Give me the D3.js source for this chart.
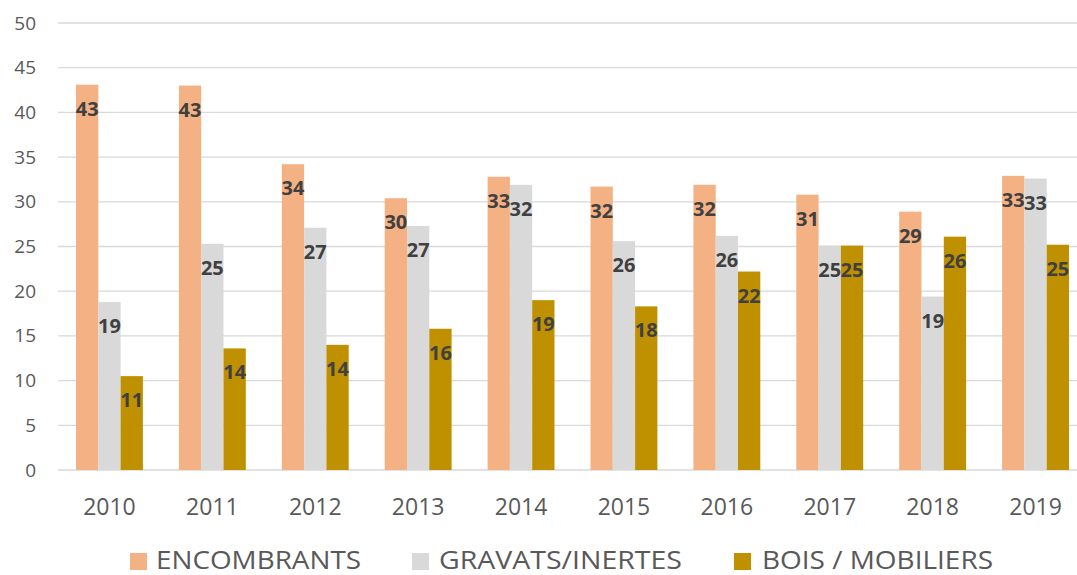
<!DOCTYPE html>
<html>
<head>
<meta charset="utf-8">
<script src="https://cdn.jsdelivr.net/npm/d3@7"></script>
<style>
    body { margin: 0; background: #fff; }
    text { font-family: "Open Sans", sans-serif; }
</style>
</head>
<body>
<div id="chart"></div>
<script>

// data
const years = ["2010", "2011", "2012", "2013", "2014", "2015", "2016", "2017", "2018", "2019"];
const seriesNames = ["ENCOMBRANTS", "GRAVATS/INERTES", "BOIS / MOBILIERS"];
const encombrants = [43.1, 43.0, 34.2, 30.4, 32.8, 31.7, 31.9, 30.8, 28.9, 32.9];
const gravats = [18.8, 25.3, 27.1, 27.3, 31.9, 25.6, 26.2, 25.1, 19.4, 32.6];
const bois = [10.5, 13.6, 14.0, 15.8, 19.0, 18.3, 22.2, 25.1, 26.1, 25.2];
const yTicks = [0, 5, 10, 15, 20, 25, 30, 35, 40, 45, 50];

const colors = ["#F4B183", "#D9D9D9", "#BF9000"];
const allSeries = [encombrants, gravats, bois];

let width = 1077, height = 575;
let margin = {top: 23, right: -10, bottom: 105, left: 58};
let innerW = width - margin.left - margin.right;
let innerH = height - margin.top - margin.bottom;

let svg = d3.select("#chart").append("svg")
    .attr("width", width)
    .attr("height", height);

let g = svg.append("g")
    .attr("transform", "translate(" + margin.left + "," + margin.top + ")");

let x = d3.scaleBand()
    .domain(years)
    .range([0, innerW])
    .paddingInner(0.35)
    .paddingOuter(0.175);

let xSub = d3.scaleBand()
    .domain(seriesNames)
    .range([0, x.bandwidth()]);

let y = d3.scaleLinear()
    .domain([0, 50])
    .range([innerH, 0]);

// gridlines
g.selectAll(".grid")
    .data(yTicks)
    .enter().append("line")
    .attr("class", "grid")
    .attr("x1", 0)
    .attr("x2", innerW)
    .attr("y1", d => y(d))
    .attr("y2", d => y(d))
    .attr("stroke", "#D9D9D9")
    .attr("stroke-width", 1.3);

// y axis labels
let yAxis = d3.axisLeft(y).tickValues(yTicks).tickSize(0).tickPadding(22);
g.append("g")
    .attr("class", "y-axis")
    .call(yAxis)
    .call(a => a.select(".domain").remove())
    .selectAll("text")
    .attr("font-size", "19px")
    .attr("font-family", "Open Sans, sans-serif")
    .attr("fill", "#595959");

// x axis labels
let xAxis = d3.axisBottom(x).tickSize(0).tickPadding(29);
g.append("g")
    .attr("class", "x-axis")
    .attr("transform", "translate(0," + innerH + ")")
    .call(xAxis)
    .call(a => a.select(".domain").remove())
    .selectAll("text")
    .attr("font-size", "23px")
    .attr("font-family", "Open Sans, sans-serif")
    .attr("fill", "#595959");

// flat table for bars
let rows = [];
years.forEach((yr, i) => {
    seriesNames.forEach((s, j) => {
        rows.push({year: yr, series: s, value: allSeries[j][i], color: colors[j]});
    });
});

g.selectAll(".bar")
    .data(rows)
    .enter().append("rect")
    .attr("class", "bar")
    .attr("x", d => x(d.year) + xSub(d.series))
    .attr("y", d => y(d.value))
    .attr("width", xSub.bandwidth())
    .attr("height", d => innerH - y(d.value))
    .attr("fill", d => d.color);

g.selectAll(".lbl")
    .data(rows)
    .enter().append("text")
    .attr("class", "lbl")
    .attr("x", d => x(d.year) + xSub(d.series) + xSub.bandwidth() / 2)
    .attr("y", d => y(d.value) + 31)
    .attr("text-anchor", "middle")
    .attr("font-size", "20px")
    .attr("font-weight", "bold")
    .attr("fill", "#404040")
    .text(d => Math.round(d.value));

// legend
let legendX = [130, 412, 734];
let legendTextX = [156, 439, 762];
let legendLen = [205, 243, 231];
let legend = svg.append("g").attr("class", "legend");
seriesNames.forEach((s, j) => {
    legend.append("rect")
        .attr("x", legendX[j])
        .attr("y", 553)
        .attr("width", 17)
        .attr("height", 17)
        .attr("fill", colors[j]);
    legend.append("text")
        .attr("x", legendTextX[j])
        .attr("y", 569)
        .attr("font-size", "25px")
        .attr("fill", "#595959")
        .attr("textLength", legendLen[j])
        .attr("lengthAdjust", "spacingAndGlyphs")
        .text(s);
});

</script>
</body>
</html>
